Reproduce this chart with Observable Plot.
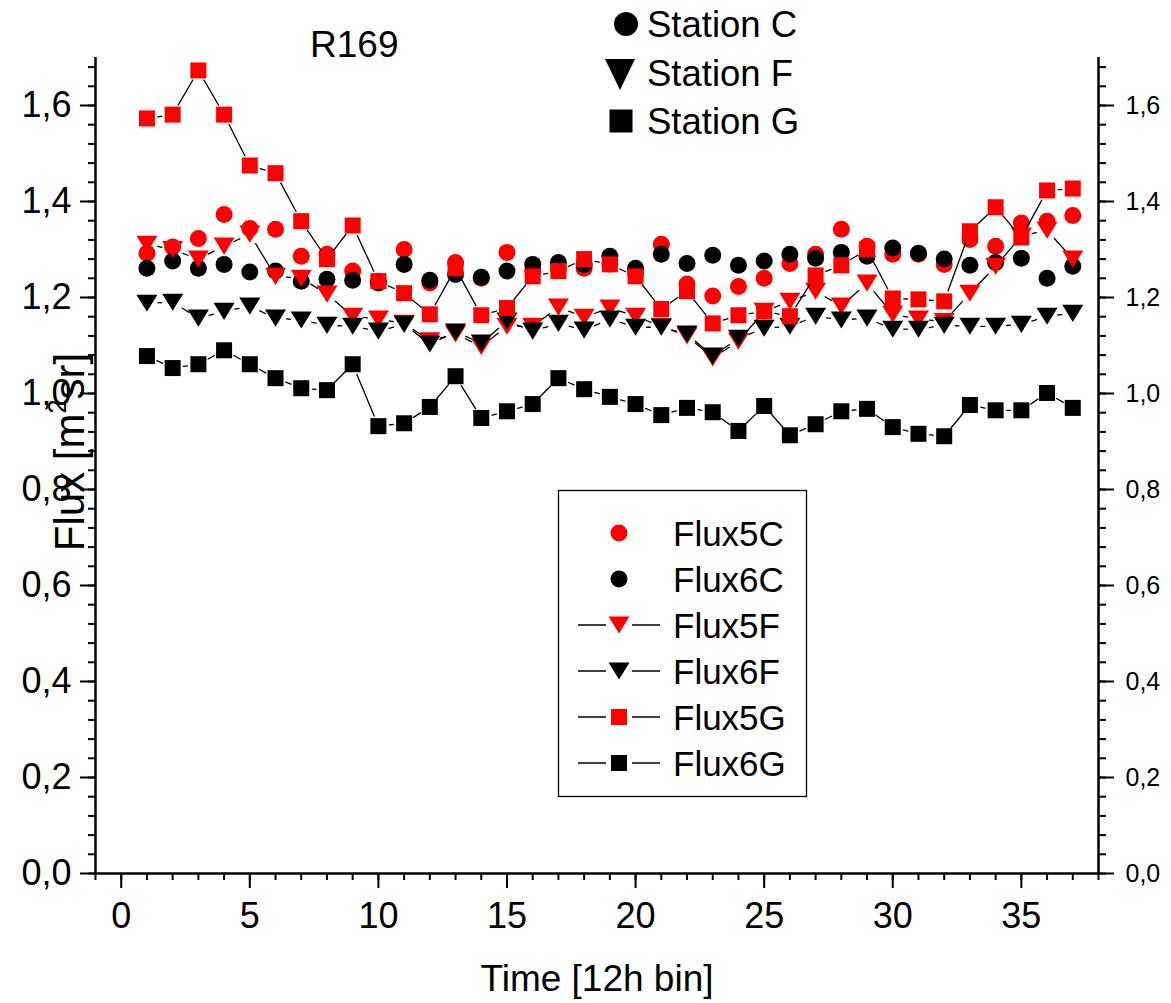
<!DOCTYPE html>
<html><head><meta charset="utf-8">
<script src="https://cdn.jsdelivr.net/npm/d3@7"></script>
<script src="https://cdn.jsdelivr.net/npm/@observablehq/plot@0.6"></script>
<style>
body{margin:0;background:#fff;}
#wrap{position:relative;width:1171px;height:1003px;font-family:"Liberation Sans",Arial,sans-serif;}
#overlay{position:absolute;left:0;top:0;pointer-events:none;}
#ylab{position:absolute;left:70px;top:452px;transform:translate(-50%,-50%) rotate(-90deg);font-size:42px;white-space:nowrap;color:#000;line-height:1;}
</style></head><body><div id="wrap"></div>
<script>
const time = [1,2,3,4,5,6,7,8,9,10,11,12,13,14,15,16,17,18,19,20,21,22,23,24,25,26,27,28,29,30,31,32,33,34,35,36,37];
const flux5C = [1.292,1.305,1.323,1.373,1.344,1.342,1.286,1.290,1.255,1.234,1.300,1.230,1.273,1.240,1.294,1.255,1.260,1.261,1.270,1.250,1.311,1.228,1.203,1.223,1.240,1.271,1.290,1.342,1.307,1.290,1.290,1.269,1.321,1.307,1.355,1.359,1.371];
const flux6C = [1.261,1.276,1.261,1.269,1.253,1.255,1.234,1.238,1.236,1.230,1.269,1.236,1.248,1.242,1.255,1.269,1.273,1.269,1.286,1.261,1.290,1.271,1.288,1.267,1.276,1.290,1.282,1.294,1.286,1.303,1.292,1.280,1.267,1.273,1.282,1.240,1.265];
const flux5F = [1.311,1.300,1.280,1.307,1.332,1.244,1.240,1.207,1.161,1.155,1.146,1.110,1.124,1.098,1.140,1.140,1.180,1.159,1.178,1.161,1.140,1.120,1.074,1.109,1.171,1.192,1.213,1.182,1.230,1.165,1.155,1.150,1.209,1.265,1.328,1.340,1.280];
const flux6F = [1.188,1.190,1.157,1.171,1.182,1.157,1.153,1.142,1.140,1.130,1.144,1.103,1.128,1.105,1.151,1.130,1.146,1.132,1.155,1.138,1.138,1.124,1.078,1.115,1.136,1.140,1.161,1.153,1.157,1.134,1.134,1.142,1.140,1.140,1.144,1.161,1.167];
const flux5G = [1.573,1.581,1.673,1.581,1.475,1.459,1.359,1.280,1.350,1.234,1.209,1.165,1.261,1.163,1.178,1.244,1.255,1.280,1.269,1.244,1.176,1.213,1.146,1.163,1.171,1.161,1.246,1.267,1.300,1.198,1.196,1.192,1.338,1.388,1.325,1.423,1.427];
const flux6G = [1.078,1.053,1.061,1.090,1.061,1.032,1.011,1.007,1.061,0.932,0.938,0.972,1.036,0.949,0.963,0.978,1.032,1.009,0.993,0.978,0.955,0.970,0.961,0.922,0.974,0.913,0.936,0.963,0.968,0.930,0.916,0.911,0.976,0.965,0.965,1.001,0.970];

const xMajorTicks = [0,5,10,15,20,25,30,35];
const yMajorTicks = [0,0.2,0.4,0.6,0.8,1.0,1.2,1.4,1.6];
const seriesNames = ["Flux5C","Flux6C","Flux5F","Flux6F","Flux5G","Flux6G"];
const stationNames = ["Station C","Station F","Station G"];
const titleText = "R169";

const xMinorTicks = d3.range(-1, 39, 1);
const yMinorTicks = d3.range(0, 1.7001, 0.04).map(d => +d.toFixed(2));
const fmt = d => d.toFixed(1).replace(".", ",");

const triangleDown = {
  draw(ctx, size) {
    const r = Math.sqrt(size / Math.PI);
    const w = r * 1.17, h = r * 0.95;
    ctx.moveTo(-w, -h); ctx.lineTo(w, -h); ctx.lineTo(0, h); ctx.closePath();
  }
};
const RED = "#ff0000", BLACK = "#000000";
const series = [
  {values: flux5C, color: RED, symbol: "circle", r: 8.5, line: false},
  {values: flux6C, color: BLACK, symbol: "circle", r: 8.5, line: false},
  {values: flux5F, color: RED, symbol: triangleDown, r: 9, line: true},
  {values: flux6F, color: BLACK, symbol: triangleDown, r: 9, line: true},
  {values: flux5G, color: RED, symbol: "square", r: 9.03, line: true},
  {values: flux6G, color: BLACK, symbol: "square", r: 9.03, line: true}
];
const pts = vals => time.map((t, i) => ({t, v: vals[i]}));
const segs = vals => time.slice(0, -1).map((t, i) => ({x1: t, y1: vals[i], x2: time[i + 1], y2: vals[i + 1]}));

const marks = [
  Plot.axisX(xMinorTicks, {tickSize: 7, strokeWidth: 2, tickFormat: () => ""}),
  Plot.axisX(xMajorTicks, {tickSize: 15, strokeWidth: 2, tickPadding: 14, fontSize: 36, tickFormat: d => String(d)}),
  Plot.axisY(yMinorTicks, {anchor: "left", tickSize: 7, strokeWidth: 2, tickFormat: () => ""}),
  Plot.axisY(yMajorTicks, {anchor: "left", tickSize: 15, strokeWidth: 2, tickPadding: 9, fontSize: 36, tickFormat: fmt}),
  Plot.axisY(yMinorTicks, {anchor: "right", tickSize: 7, strokeWidth: 2, tickFormat: () => ""}),
  Plot.axisY(yMajorTicks, {anchor: "right", tickSize: 15, strokeWidth: 2, tickPadding: 12, fontSize: 25, tickFormat: fmt}),
  Plot.ruleY([0], {strokeWidth: 2.5}),
  Plot.ruleX([-1], {strokeWidth: 2.5}),
  Plot.ruleX([38], {strokeWidth: 2.5})
];
for (const s of series) {
  if (s.line) marks.push(Plot.arrow(segs(s.values), {x1: "x1", y1: "y1", x2: "x2", y2: "y2", stroke: BLACK, strokeWidth: 1.3, headLength: 0, bend: 0, insetStart: 11, insetEnd: 11}));
  marks.push(Plot.dot(pts(s.values), {x: "t", y: "v", fill: s.color, stroke: "none", r: s.r, symbol: s.symbol}));
}

const chart = Plot.plot({
  width: 1171, height: 1003,
  marginLeft: 95, marginRight: 73, marginTop: 57, marginBottom: 130,
  x: {domain: [-1, 38], label: null},
  y: {domain: [0, 1.7], label: null},
  style: {fontFamily: '"Liberation Sans", Arial, sans-serif', background: "#fff", color: "#000", overflow: "visible"},
  marks
});
const wrap = document.getElementById("wrap");
wrap.appendChild(chart);

// y label
const yl = document.createElement("div");
yl.id = "ylab";
yl.innerHTML = "Flux [m<sup style='font-size:0.6em;vertical-align:0.7em;line-height:0'>2</sup>sr]";
wrap.appendChild(yl);

// overlay: title, station key, legend, x label
const svg = d3.select(wrap).append("svg").attr("id", "overlay").attr("width", 1171).attr("height", 1003)
  .style("font-family", '"Liberation Sans", Arial, sans-serif');
svg.append("text").attr("x", 310).attr("y", 57).attr("font-size", 37).text(titleText);
svg.append("text").attr("x", 597).attr("y", 991).attr("text-anchor", "middle").attr("font-size", 37).text("Time [12h bin]");

function marker(g, sym, cx, cy, fill, scale) {
  if (sym === "circle") g.append("circle").attr("cx", cx).attr("cy", cy).attr("r", 8.5 * scale).attr("fill", fill);
  else if (sym === "square") { const h = 8 * scale; g.append("rect").attr("x", cx - h).attr("y", cy - h).attr("width", 2 * h).attr("height", 2 * h).attr("fill", fill); }
  else { const w = 10.5 * scale, h = 8.5 * scale; g.append("path").attr("d", `M${cx - w},${cy - h}L${cx + w},${cy - h}L${cx},${cy + h}Z`).attr("fill", fill); }
}
// station key
const stationSyms = ["circle", "tri", "square"];
const stationY = [24, 73, 121];
stationNames.forEach((n, i) => {
  const cx = [626, 620, 621][i];
  if (stationSyms[i] === "circle") svg.append("circle").attr("cx", cx).attr("cy", stationY[i]).attr("r", 12).attr("fill", BLACK);
  else if (stationSyms[i] === "square") svg.append("rect").attr("x", cx - 11.5).attr("y", stationY[i] - 11.5).attr("width", 23).attr("height", 23).attr("fill", BLACK);
  else svg.append("path").attr("d", `M${cx - 15},${stationY[i] - 14}L${cx + 15},${stationY[i] - 14}L${cx},${stationY[i] + 17}Z`).attr("fill", BLACK);
  svg.append("text").attr("x", 647).attr("y", stationY[i] + 13).attr("font-size", 36.5).text(n);
});
// legend box
svg.append("rect").attr("x", 558.5).attr("y", 490.5).attr("width", 248).attr("height", 306).attr("fill", "none").attr("stroke", BLACK).attr("stroke-width", 1.3);
const legSyms = ["circle", "circle", "tri", "tri", "square", "square"];
seriesNames.forEach((n, i) => {
  const y = 533 + i * 46;
  if (series[i].line) svg.append("line").attr("x1", 578).attr("x2", 660).attr("y1", y).attr("y2", y).attr("stroke", BLACK).attr("stroke-width", 1.3);
  if (series[i].line) svg.append("rect").attr("x", 606).attr("y", y - 2).attr("width", 26).attr("height", 4).attr("fill", "#fff");
  marker(svg, legSyms[i], 619, y, series[i].color, 1);
  svg.append("text").attr("x", 673).attr("y", y + 12.5).attr("font-size", 35).text(n);
});
</script></body></html>
